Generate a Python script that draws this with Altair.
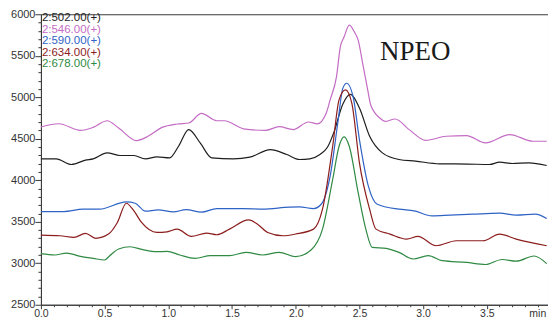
import altair as alt
import pandas as pd

# Retention times (min) and intensities for each extracted ion trace
x_502 = [0.00, 0.12, 0.24, 0.35, 0.41, 0.52, 0.62, 0.73, 0.82, 0.91, 1.01, 1.08, 1.16, 1.25,
         1.34, 1.51, 1.64, 1.80, 1.93, 2.03, 2.11, 2.19, 2.25, 2.30, 2.37, 2.43, 2.50, 2.58,
         2.68, 2.81, 2.94, 3.13, 3.35, 3.52, 3.60, 3.70, 3.83, 3.97]
y_502 = [4258, 4258, 4190, 4242, 4258, 4330, 4298, 4298, 4258, 4282, 4270, 4410, 4610, 4450,
         4270, 4258, 4278, 4370, 4310, 4250, 4258, 4310, 4400, 4580, 4920, 5035, 4870, 4530,
         4330, 4250, 4230, 4198, 4195, 4190, 4218, 4202, 4210, 4178]

x_546 = [0.00, 0.14, 0.31, 0.41, 0.52, 0.61, 0.75, 0.84, 0.95, 1.07, 1.16, 1.26, 1.38, 1.44,
         1.59, 1.76, 1.87, 1.98, 2.10, 2.17, 2.24, 2.27, 2.32, 2.35, 2.38, 2.42, 2.46, 2.49,
         2.53, 2.56, 2.59, 2.66, 2.70, 2.78, 2.89, 3.02, 3.18, 3.34, 3.49, 3.68, 3.86, 3.97]
y_546 = [4642, 4681, 4601, 4637, 4717, 4630, 4478, 4530, 4637, 4678, 4690, 4805, 4717, 4717,
         4620, 4600, 4645, 4610, 4702, 4679, 4810, 4969, 5249, 5608, 5728, 5868, 5788, 5688,
         5368, 5129, 4900, 4750, 4709, 4738, 4610, 4481, 4530, 4538, 4450, 4550, 4470, 4470]

x_590 = [0.00, 0.18, 0.33, 0.46, 0.67, 0.74, 0.82, 0.92, 1.04, 1.14, 1.26, 1.38, 1.59, 1.74,
         1.95, 2.03, 2.14, 2.20, 2.27, 2.33, 2.37, 2.40, 2.45, 2.50, 2.57, 2.64, 2.81, 2.93,
         3.07, 3.21, 3.39, 3.60, 3.73, 3.88, 3.97]
y_590 = [3623, 3623, 3651, 3651, 3739, 3723, 3627, 3643, 3619, 3647, 3615, 3659, 3659, 3651,
         3675, 3679, 3659, 3711, 4050, 4690, 5110, 5169, 5009, 4490, 3930, 3711, 3651, 3631,
         3571, 3579, 3591, 3603, 3579, 3591, 3539]

x_634 = [0.00, 0.15, 0.26, 0.35, 0.43, 0.53, 0.60, 0.67, 0.73, 0.79, 0.91, 0.99, 1.07, 1.18,
         1.30, 1.38, 1.48, 1.63, 1.70, 1.78, 1.90, 2.00, 2.14, 2.21, 2.29, 2.34, 2.39, 2.44,
         2.50, 2.58, 2.63, 2.74, 2.87, 2.96, 3.10, 3.26, 3.47, 3.60, 3.73, 3.97]
y_634 = [3339, 3331, 3312, 3360, 3300, 3351, 3491, 3723, 3630, 3491, 3371, 3379, 3411, 3323,
         3363, 3343, 3411, 3522, 3471, 3371, 3331, 3352, 3411, 3651, 4410, 4969, 5089, 4930,
         4210, 3651, 3411, 3351, 3291, 3323, 3211, 3271, 3271, 3351, 3291, 3211]

x_678 = [0.00, 0.11, 0.20, 0.31, 0.41, 0.50, 0.54, 0.61, 0.70, 0.80, 0.91, 0.99, 1.09, 1.21,
         1.33, 1.48, 1.61, 1.74, 1.87, 2.00, 2.12, 2.21, 2.29, 2.34, 2.38, 2.42, 2.49, 2.55,
         2.60, 2.71, 2.81, 2.92, 3.04, 3.15, 3.34, 3.49, 3.62, 3.73, 3.87, 3.97]
y_678 = [3115, 3099, 3123, 3083, 3059, 3039, 3091, 3171, 3199, 3163, 3139, 3143, 3099, 3059,
         3091, 3091, 3131, 3099, 3131, 3079, 3160, 3411, 4010, 4410, 4522, 4410, 3851, 3411,
         3192, 3180, 3131, 3051, 3091, 3031, 3010, 2985, 3045, 3025, 3087, 2995]

traces = ["2:502.00(+)", "2:546.00(+)", "2:590.00(+)", "2:634.00(+)", "2:678.00(+)"]
colors = ["#1e1e1e", "#c46cc4", "#2f63c6", "#8c1d1d", "#2f8a43"]
series_x = [x_502, x_546, x_590, x_634, x_678]
series_y = [y_502, y_546, y_590, y_634, y_678]

rows = []
for name, xs, ys in zip(traces, series_x, series_y):
    for i, (t, v) in enumerate(zip(xs, ys)):
        rows.append({"trace": name, "t": t, "v": v, "i": i})
df = pd.DataFrame(rows)

W, H = 508, 291
X_MAX = 3.98
font = "Liberation Sans"
axis_col = "#3a3a3a"

x_ticks = [round(i * 0.1, 1) for i in range(40)]
y_ticks = list(range(2500, 6001, 100))
half_test = "abs(datum.value*2 - round(datum.value*2)) < 0.001"

color_scale = alt.Scale(domain=traces, range=colors)

lines = alt.Chart(df).mark_line(interpolate="monotone", strokeWidth=1.2).encode(
    x=alt.X("t:Q", scale=alt.Scale(domain=[0, X_MAX], nice=False, zero=False),
            axis=alt.Axis(values=x_ticks, title=None, grid=False,
                          labelExpr=half_test + " ? format(datum.value, '.1f') : ''",
                          tickSize={"condition": {"test": half_test, "value": 4}, "value": 2},
                          labelOverlap=False, labelFlush=False, labelPadding=0,
                          labelFont=font, labelFontSize=10.5, labelColor="#333",
                          domainColor=axis_col, tickColor=axis_col)),
    y=alt.Y("v:Q", scale=alt.Scale(domain=[2500, 6000], nice=False, zero=False),
            axis=alt.Axis(values=y_ticks, title=None, grid=False, format="d",
                          labelExpr="datum.value % 500 === 0 ? datum.label : ''",
                          tickSize={"condition": {"test": "datum.value % 500 === 0", "value": 6},
                                    "value": 3},
                          labelOverlap=False, labelFlush=False, labelPadding=0,
                          labelFont=font, labelFontSize=11, labelColor="#333",
                          domainColor=axis_col, tickColor=axis_col)),
    color=alt.Color("trace:N", scale=color_scale, legend=None),
    order="i:Q",
    detail="trace:N",
)

# Trace names listed in the upper-left corner in their own colours
legend_df = pd.DataFrame({"trace": traces, "row": list(range(len(traces)))})
legend = alt.Chart(legend_df).mark_text(
    align="left", baseline="middle", font=font, fontSize=11.5
).transform_calculate(py="4 + datum.row * 11.5").encode(
    x=alt.value(1),
    y=alt.Y("py:Q", scale=None),
    text="trace:N",
    color=alt.Color("trace:N", scale=color_scale, legend=None),
)

title = alt.Chart(pd.DataFrame({"label": ["NPEO"]})).mark_text(
    font="Liberation Serif", fontSize=27, color="#1a1a1a", align="center", baseline="middle"
).encode(x=alt.value(375), y=alt.value(38), text="label:N")

# Axis unit, drawn in place of the last major label
unit = alt.Chart(pd.DataFrame({"label": ["min"]})).mark_text(
    font=font, fontSize=10.5, color="#333", align="center", baseline="top"
).encode(x=alt.value(W * 3.9 / X_MAX), y=alt.value(H + 4), text="label:N")

chart = alt.layer(lines, legend, title, unit).properties(
    width=W, height=H,
    autosize=alt.AutoSizeParams(type="none"),
    padding={"left": 41, "top": 14, "right": 0, "bottom": 15},
    background="white",
).configure_view(stroke=axis_col, strokeWidth=1)

chart.save("out.html", embed_options={"renderer": "svg", "actions": False})
